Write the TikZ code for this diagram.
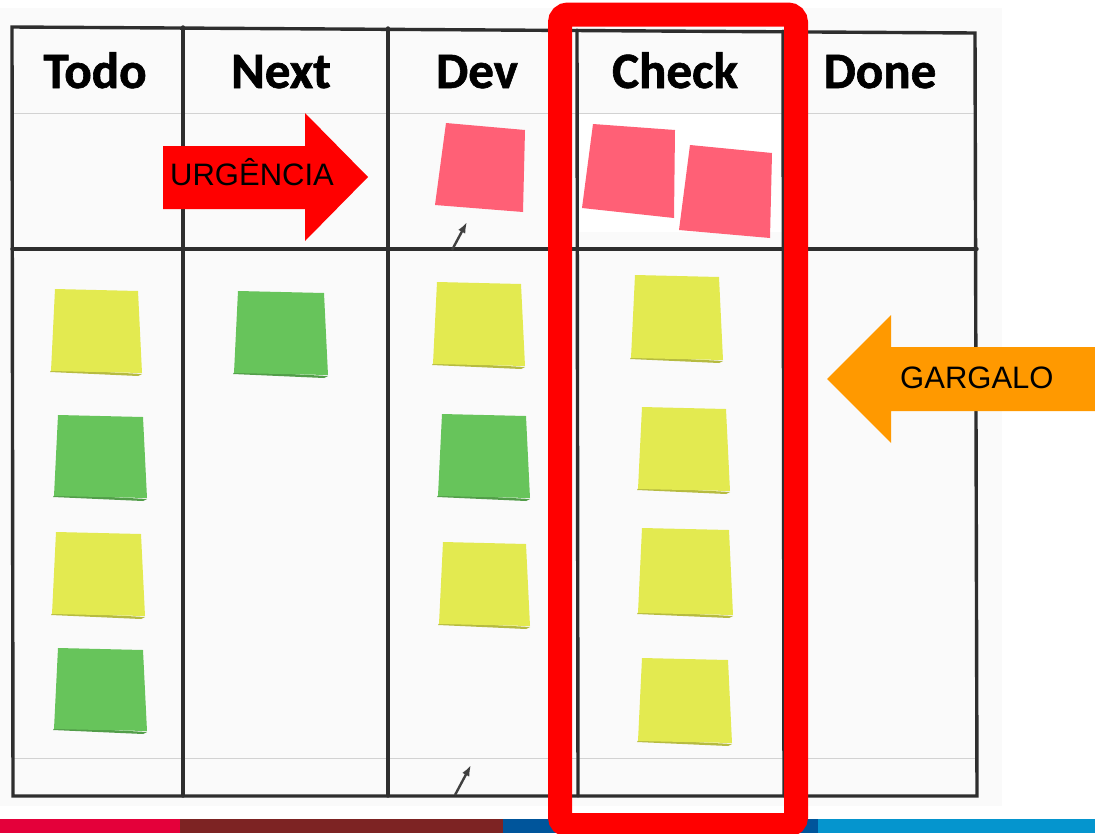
\documentclass[tikz,border=0pt]{standalone}
\usepackage{fontspec}
\setmainfont{Liberation Sans}
\newfontfamily\hdfont[BoldFeatures={FakeBold=1.2}]{Carlito}
\usetikzlibrary{arrows.meta}
\definecolor{pnk}{HTML}{FF6076}
\definecolor{ylw}{HTML}{E3EA50}
\definecolor{grn}{HTML}{67C45B}
\definecolor{bline}{HTML}{2E2E2E}
\definecolor{stA}{HTML}{E4003A}
\definecolor{stB}{HTML}{7D2323}
\definecolor{stC}{HTML}{00559B}
\definecolor{stD}{HTML}{0595CE}
\definecolor{arrRed}{HTML}{FF0000}
\definecolor{arrOrg}{HTML}{FF9900}
\definecolor{photobg}{HTML}{FAFAFA}
\tikzset{
  boardline/.style={draw=bline, line width=3.4pt, line cap=round},
  faintline/.style={draw=gray!35, line width=0.8pt},
  header/.style={font=\hdfont\bfseries\fontsize{51}{51}\selectfont, anchor=base, inner sep=0pt},
  arrowlabel/.style={font=\fontsize{31}{31}\selectfont, anchor=base west, inner sep=0pt},
  pencil/.style={draw=gray!50!black, line width=2.4pt, -{Latex[length=11pt,width=8pt]}},
}
\newcommand\stnote[5]{%
  \fill[#5!80!black] ({#1},{#4-3}) -- ({#3-4},{#4+1}) -- ({#3},{#4-1}) -- ({#1+2},{#4-6}) -- cycle;
  \fill[#5] ({#1+5},{#2}) -- ({#3-4},{#2+2}) -- ({#3},{#4-2}) -- ({#1+1},{#4-4}) -- cycle;
}
\begin{document}
\begin{tikzpicture}[x=1pt,y=-1pt]
\useasboundingbox (0,0) rectangle (1095,833);
\fill[white] (0,0) rectangle (1095,833);
\fill[photobg] (0,8) rectangle (1002,806);
\fill[white] (577,113) rectangle (784,232);
% board lines
\draw[faintline] (13,113) -- (976,113);
\draw[faintline] (13,758) -- (976,758);
\draw[boardline] (12,27) -- (975,33) -- (977,796) -- (13,796) -- cycle;
\draw[boardline] (183,27) -- (183,796);
\draw[boardline] (388,28) -- (388,796);
\draw[boardline] (577,30) -- (578,796);
\draw[boardline] (783,31) -- (784,796);
\draw[boardline] (12,249) -- (977,249);
% headers
\node[header] (todo) at (95,88) {Todo};
\node[header] (next) at (281,88) {Next};
\node[header] (dev) at (477,88) {Dev};
\node[header] (check) at (675,88) {Check};
\node[header] (done) at (880,88) {Done};
% pink notes
\fill[pnk] (446,123) -- (525,130) -- (523,212) -- (435,205) -- cycle;
\fill[pnk] (593,124) -- (675,130) -- (674,218) -- (582,208) -- cycle;
\fill[pnk] (690,145) -- (772,153) -- (770,238) -- (679,230) -- cycle;
% todo column
\stnote{50}{289}{142}{375}{ylw}
\stnote{53}{415}{147}{500}{grn}
\stnote{51}{532}{145}{618}{ylw}
\stnote{53}{648}{147}{733}{grn}
% next
\stnote{233}{291}{328}{377}{grn}
% dev
\stnote{432}{282}{525}{368}{ylw}
\stnote{437}{414}{530}{500}{grn}
\stnote{438}{542}{530}{628}{ylw}
% check
\stnote{630}{275}{723}{362}{ylw}
\stnote{637}{407}{730}{493}{ylw}
\stnote{637}{528}{733}{617}{ylw}
\stnote{637}{658}{732}{745}{ylw}
% pencil marks
\coordinate (p1a) at (452,250);
\coordinate (p1b) at (467,222);
\draw[pencil] (p1a) -- (p1b);
\coordinate (p2a) at (455,795);
\coordinate (p2b) at (471,765);
\draw[pencil] (p2a) -- (p2b);
% bottom stripes
\fill[stA] (0,819) rectangle (180,833);
\fill[stB] (180,819) rectangle (503,833);
\fill[stC] (503,819) rectangle (818,833);
\fill[stD] (818,819) rectangle (1095,833);
% arrows
\fill[arrRed] (163,146) -- (305,146) -- (305,113) -- (368,177) -- (305,241) -- (305,209) -- (163,209) -- cycle;
\node[arrowlabel] (urg) at (170,185) {URGÊNCIA};
\fill[arrOrg] (1095,347) -- (891,347) -- (891,315) -- (827,379) -- (891,443) -- (891,411) -- (1095,411) -- cycle;
\node[arrowlabel] (garg) at (900,388) {GARGALO};
% red bottleneck box
\draw[arrRed, line width=24pt, rounded corners=8pt] (560,14.5) rectangle (796,825);
\end{tikzpicture}
\end{document}
